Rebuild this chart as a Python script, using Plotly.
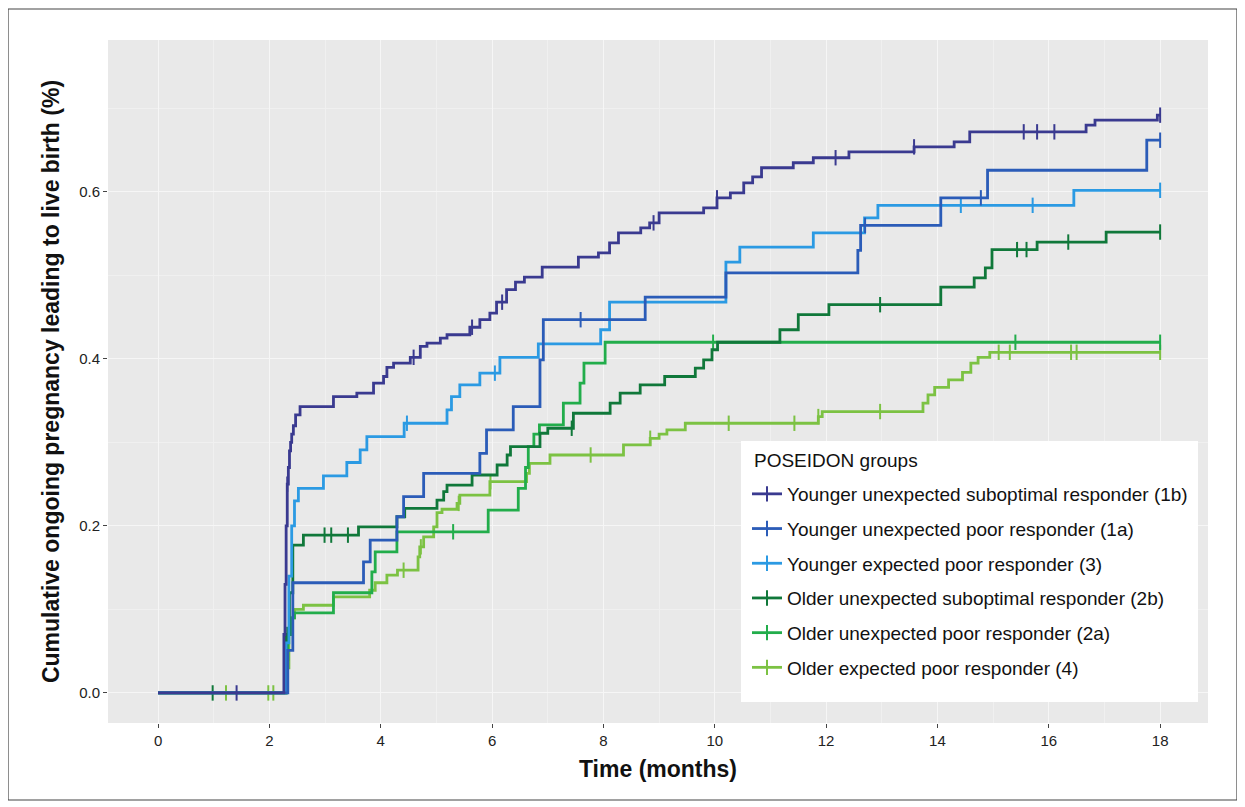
import numpy as np
import plotly.graph_objects as go

# ---------------- data ----------------
groups = [
    "Younger unexpected suboptimal responder (1b)",
    "Younger unexpected poor responder (1a)",
    "Younger expected poor responder (3)",
    "Older unexpected suboptimal responder (2b)",
    "Older unexpected poor responder (2a)",
    "Older expected poor responder (4)",
]
legend_title = "POSEIDON groups"
colors = ["#3a3a90", "#2b5cb8", "#2b9ae3", "#10783a", "#22ad4b", "#7cc243"]

t_1b = [0, 2.26, 2.28, 2.30, 2.32, 2.34, 2.36, 2.38, 2.40, 2.43, 2.47, 2.55, 3.15, 3.57, 3.87,
        4.05, 4.11, 4.23, 4.53, 4.71, 4.83, 5.07, 5.19, 5.60, 5.78, 5.96, 6.08, 6.26, 6.42,
        6.58, 6.90, 7.55, 7.91, 8.11, 8.27, 8.67, 8.83, 9.00, 9.80, 10.04, 10.28, 10.52,
        10.68, 10.84, 11.41, 11.77, 12.41, 13.58, 14.30, 14.58, 16.67, 16.83, 17.95, 18.0]
y_1b = [0, 0.07, 0.13, 0.20, 0.25, 0.27, 0.29, 0.30, 0.31, 0.32, 0.333, 0.343, 0.355, 0.359, 0.371,
        0.379, 0.390, 0.395, 0.402, 0.415, 0.419, 0.425, 0.429, 0.438, 0.447, 0.455, 0.468, 0.483,
        0.492, 0.498, 0.510, 0.522, 0.527, 0.539, 0.551, 0.557, 0.563, 0.575, 0.581, 0.593, 0.599,
        0.611, 0.618, 0.629, 0.635, 0.641, 0.648, 0.654, 0.660, 0.672, 0.680, 0.686, 0.692, 0.692]
c_1b = [1.41, 2.32, 4.59, 5.64, 6.18, 8.90, 10.04, 12.17, 13.58, 15.55, 15.79, 16.10, 18.0]

t_1a = [0, 2.33, 2.42, 3.69, 3.81, 4.29, 4.41, 4.77, 5.78, 5.90, 6.38, 6.86, 6.92, 8.75,
        10.20, 12.57, 12.62, 14.06, 14.90, 17.76, 18.0]
y_1a = [0, 0.051, 0.132, 0.157, 0.183, 0.211, 0.235, 0.263, 0.287, 0.315, 0.343, 0.399, 0.447,
        0.474, 0.503, 0.530, 0.560, 0.593, 0.626, 0.662, 0.662]
c_1a = [7.59, 12.70, 14.78, 18.0]

t_3 = [0, 2.30, 2.35, 2.40, 2.45, 2.52, 2.97, 3.39, 3.63, 3.75, 4.42, 5.19, 5.27, 5.42, 5.78,
       6.14, 6.83, 7.95, 8.11, 10.20, 10.45, 11.77, 12.69, 12.93, 16.45, 18.0]
y_3 = [0, 0.06, 0.14, 0.20, 0.23, 0.245, 0.260, 0.276, 0.291, 0.307, 0.323, 0.339, 0.355, 0.369,
       0.383, 0.402, 0.418, 0.435, 0.468, 0.516, 0.534, 0.551, 0.569, 0.584, 0.602, 0.602]
c_3 = [4.47, 6.05, 14.42, 15.71, 18.0]

t_2b = [0, 2.30, 2.36, 2.42, 2.61, 3.60, 4.29, 4.43, 5.01, 5.13, 5.19, 5.64, 6.09, 6.27, 6.33,
        6.86, 7.00, 7.46, 8.12, 8.30, 8.66, 9.10, 9.65, 9.80, 9.95, 10.05, 11.17, 11.50, 12.05,
        14.06, 14.66, 14.86, 14.98, 15.79, 17.03, 18.0]
y_2b = [0, 0.07, 0.12, 0.177, 0.189, 0.199, 0.211, 0.221, 0.231, 0.241, 0.249, 0.261, 0.273,
        0.285, 0.295, 0.311, 0.317, 0.335, 0.347, 0.359, 0.369, 0.379, 0.389, 0.399, 0.411, 0.420,
        0.435, 0.453, 0.465, 0.486, 0.497, 0.509, 0.531, 0.540, 0.552, 0.552]
c_2b = [0.98, 2.32, 2.99, 3.11, 3.41, 7.43, 12.97, 15.43, 15.60, 16.35, 18.0]

t_2a = [0, 2.30, 2.33, 2.38, 2.45, 3.15, 3.84, 3.90, 4.29, 5.93, 6.47, 6.60, 6.65, 6.75, 6.85,
        7.28, 7.58, 7.65, 8.03, 18.0]
y_2a = [0, 0.04, 0.07, 0.09, 0.096, 0.120, 0.145, 0.169, 0.193, 0.219, 0.245, 0.270, 0.295,
        0.310, 0.321, 0.347, 0.371, 0.395, 0.420, 0.420]
c_2a = [5.30, 9.97, 15.40, 18.0]

t_4 = [0, 2.30, 2.35, 2.40, 2.45, 2.61, 3.15, 3.80, 3.90, 4.11, 4.30, 4.67, 4.70, 4.77, 4.95,
       5.01, 5.10, 5.37, 5.42, 5.96, 6.62, 6.67, 7.04, 8.36, 8.84, 9.00, 9.14, 9.47, 11.86,
       11.93, 13.74, 13.83, 13.95, 14.20, 14.45, 14.60, 14.73, 14.94, 18.0]
y_4 = [0, 0.03, 0.07, 0.09, 0.100, 0.105, 0.115, 0.123, 0.132, 0.141, 0.147, 0.163, 0.175,
       0.187, 0.199, 0.216, 0.220, 0.227, 0.237, 0.253, 0.263, 0.275, 0.285, 0.297, 0.305,
       0.310, 0.315, 0.323, 0.331, 0.337, 0.347, 0.357, 0.366, 0.375, 0.384, 0.395, 0.402,
       0.408, 0.408]
c_4 = [1.22, 1.98, 2.07, 4.41, 4.72, 5.40, 5.97, 7.77, 8.84, 10.25, 11.43, 11.86, 12.97,
       15.10, 15.30, 16.40, 16.50, 18.0]

x_ticks = [0, 2, 4, 6, 8, 10, 12, 14, 16, 18]
y_ticks = [0.0, 0.2, 0.4, 0.6]
y_tick_labels = ["0.0", "0.2", "0.4", "0.6"]

series = [
    (t_1b, y_1b, c_1b),
    (t_1a, y_1a, c_1a),
    (t_3, y_3, c_3),
    (t_2b, y_2b, c_2b),
    (t_2a, y_2a, c_2a),
    (t_4, y_4, c_4),
]

FONT = "Liberation Sans, Arial, sans-serif"

# figure geometry (the page adds an 8px body margin)
W, H = 1237, 799
L, R, T, B = 100, 37, 32, 84
PW, PH = W - L - R, H - T - B


def px_x(p):  # figure pixel -> paper x
    return (p - L) / PW


def px_y(p):  # figure pixel -> paper y
    return (H - B - p) / PH


fig = go.Figure()


def step_value(tt, yy, c):
    tt = np.asarray(tt)
    yy = np.asarray(yy)
    idx = np.searchsorted(tt, np.asarray(c), side="right") - 1
    idx = np.clip(idx, 0, len(yy) - 1)
    return yy[idx]


# draw in reverse so 1b is on top
for i in reversed(range(len(groups))):
    tt, yy, cc = series[i]
    col = colors[i]
    fig.add_trace(go.Scatter(
        x=tt, y=yy, mode="lines", line=dict(color=col, width=2.8, shape="hv"),
        showlegend=False, legendgroup=f"g{i}", hoverinfo="skip"))
    fig.add_trace(go.Scatter(
        x=cc, y=step_value(tt, yy, cc), mode="markers",
        marker=dict(symbol="line-ns", size=11, line=dict(color=col, width=2)),
        showlegend=False, legendgroup=f"g{i}", hoverinfo="skip"))

# legend entries
for i, name in enumerate(groups):
    fig.add_trace(go.Scatter(
        x=[None], y=[None], mode="lines+markers", name=name,
        line=dict(color=colors[i], width=2.8),
        marker=dict(symbol="line-ns", size=11, line=dict(color=colors[i], width=2)),
        legendgroup=f"g{i}", legendrank=i + 1))

fig.update_layout(
    width=W, height=H,
    margin=dict(l=L, r=R, t=T, b=B),
    paper_bgcolor="white",
    plot_bgcolor="#e9e9e9",
    font=dict(family=FONT, color="#222222"),
    legend=dict(
        font=dict(size=19, color="#111"),
        x=px_x(739), y=px_y(467), xanchor="left", yanchor="top",
        bgcolor="rgba(0,0,0,0)", borderwidth=0,
        tracegroupgap=7, itemwidth=30,
    ),
    xaxis=dict(
        range=[-0.9, 18.86], tickvals=x_ticks, ticks="outside", ticklen=4,
        tickcolor="#444", tickwidth=1, tickfont=dict(size=15, color="#222"),
        showgrid=True, gridcolor="#f6f6f6", gridwidth=1.3,
        minor=dict(dtick=1, showgrid=True, gridcolor="#f0f0f0", gridwidth=0.6),
        zeroline=False, showline=False,
        title=dict(text="<b>Time (months)</b>", font=dict(size=23, color="#111"), standoff=12),
    ),
    yaxis=dict(
        range=[-0.036, 0.782], tickvals=y_ticks, ticktext=y_tick_labels, ticks="outside",
        ticklen=4, tickcolor="#444", tickwidth=1, tickfont=dict(size=15, color="#222"),
        showgrid=True, gridcolor="#f6f6f6", gridwidth=1.3,
        minor=dict(dtick=0.1, showgrid=True, gridcolor="#f0f0f0", gridwidth=0.6),
        zeroline=False, showline=False,
        title=dict(text="<b>Cumulative ongoing pregnancy leading to live birth (%)</b>",
                   font=dict(size=23, color="#111"), standoff=13),
    ),
    shapes=[
        dict(type="rect", xref="paper", yref="paper",
             x0=px_x(0), x1=px_x(1229), y0=px_y(792), y1=px_y(1),
             line=dict(color="#444", width=1.2), fillcolor="rgba(0,0,0,0)", layer="below"),
        # legend box
        dict(type="rect", xref="paper", yref="paper",
             x0=px_x(733), x1=px_x(1190), y0=px_y(694), y1=px_y(433),
             line=dict(width=0), fillcolor="white", layer="above"),
    ],
    annotations=[
        dict(text=legend_title, xref="paper", yref="paper", x=px_x(744), y=px_y(452),
             xanchor="left", yanchor="middle", showarrow=False,
             font=dict(size=19, color="#111")),
    ],
)

fig.write_html("out.html")
